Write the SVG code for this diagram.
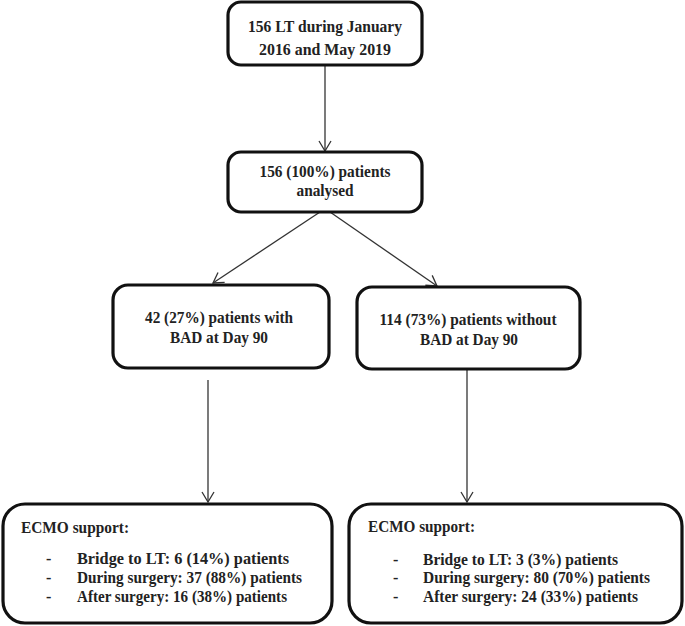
<svg xmlns="http://www.w3.org/2000/svg" width="685" height="626" viewBox="0 0 685 626">
<defs>
<marker id="ah" markerWidth="14" markerHeight="14" viewBox="0 0 14 14" refX="12" refY="7" orient="auto" markerUnits="userSpaceOnUse">
<path d="M2,1 L12,7 L2,13" fill="none" stroke="#333" stroke-width="1.3"/>
</marker>
<style>
.box{fill:#fff;stroke:#111;stroke-width:3.2}
.t{font-family:"Liberation Serif","Times New Roman",serif;font-weight:bold;font-size:17px;fill:#222}
.s{font-size:16px}
.c{text-anchor:middle}
.ln{stroke:#333;stroke-width:1.3;fill:none;marker-end:url(#ah)}
</style>
</defs>
<rect width="685" height="626" fill="#fff"/>
<g id="connectors">
<line class="ln" x1="325" y1="66" x2="325" y2="151"/>
<line class="ln" x1="320" y1="212" x2="213" y2="283"/>
<line class="ln" x1="330" y1="212" x2="437" y2="286"/>
<line class="ln" x1="208" y1="380" x2="208" y2="502"/>
<line class="ln" x1="467" y1="370" x2="467" y2="502"/>
</g>
<g id="n1">
<rect class="box" x="228" y="2" width="194" height="63" rx="13"/>
<text class="t c" x="325" y="32" textLength="154" lengthAdjust="spacingAndGlyphs">156 LT during January</text>
<text class="t c" x="325" y="55" textLength="132" lengthAdjust="spacingAndGlyphs">2016 and May 2019</text>
</g>
<g id="n2">
<rect class="box" x="228" y="152" width="194" height="60" rx="13"/>
<text class="t s c" x="325" y="177" textLength="131" lengthAdjust="spacingAndGlyphs">156 (100%) patients</text>
<text class="t s c" x="325" y="196" textLength="57" lengthAdjust="spacingAndGlyphs">analysed</text>
</g>
<g id="n3">
<rect class="box" x="113" y="285" width="216" height="83" rx="15"/>
<text class="t c" x="219" y="323" textLength="148" lengthAdjust="spacingAndGlyphs">42 (27%) patients with</text>
<text class="t c" x="219" y="343" textLength="98" lengthAdjust="spacingAndGlyphs">BAD at Day 90</text>
</g>
<g id="n4">
<rect class="box" x="357" y="287" width="223" height="82" rx="15"/>
<text class="t c" x="468" y="325" textLength="177" lengthAdjust="spacingAndGlyphs">114 (73%) patients without</text>
<text class="t c" x="469" y="345" textLength="98" lengthAdjust="spacingAndGlyphs">BAD at Day 90</text>
</g>
<g id="n5">
<rect class="box" x="3" y="504" width="329" height="119" rx="22"/>
<text class="t s" x="21" y="533" textLength="108" lengthAdjust="spacingAndGlyphs">ECMO support:</text>
<text class="t s" x="46" y="564">-</text>
<text class="t s" x="77" y="564" textLength="212" lengthAdjust="spacingAndGlyphs">Bridge to LT: 6 (14%) patients</text>
<text class="t s" x="46" y="583">-</text>
<text class="t s" x="77" y="583" textLength="225" lengthAdjust="spacingAndGlyphs">During surgery: 37 (88%) patients</text>
<text class="t s" x="46" y="602">-</text>
<text class="t s" x="77" y="602" textLength="210" lengthAdjust="spacingAndGlyphs">After surgery: 16 (38%) patients</text>
</g>
<g id="n6">
<rect class="box" x="349" y="504" width="333" height="119" rx="22"/>
<text class="t s" x="368" y="532" textLength="107" lengthAdjust="spacingAndGlyphs">ECMO support:</text>
<text class="t s" x="393" y="565">-</text>
<text class="t s" x="423" y="565" textLength="195" lengthAdjust="spacingAndGlyphs">Bridge to LT: 3 (3%) patients</text>
<text class="t s" x="393" y="583">-</text>
<text class="t s" x="423" y="583" textLength="227" lengthAdjust="spacingAndGlyphs">During surgery: 80 (70%) patients</text>
<text class="t s" x="393" y="602">-</text>
<text class="t s" x="423" y="602" textLength="215" lengthAdjust="spacingAndGlyphs">After surgery: 24 (33%) patients</text>
</g>
</svg>
